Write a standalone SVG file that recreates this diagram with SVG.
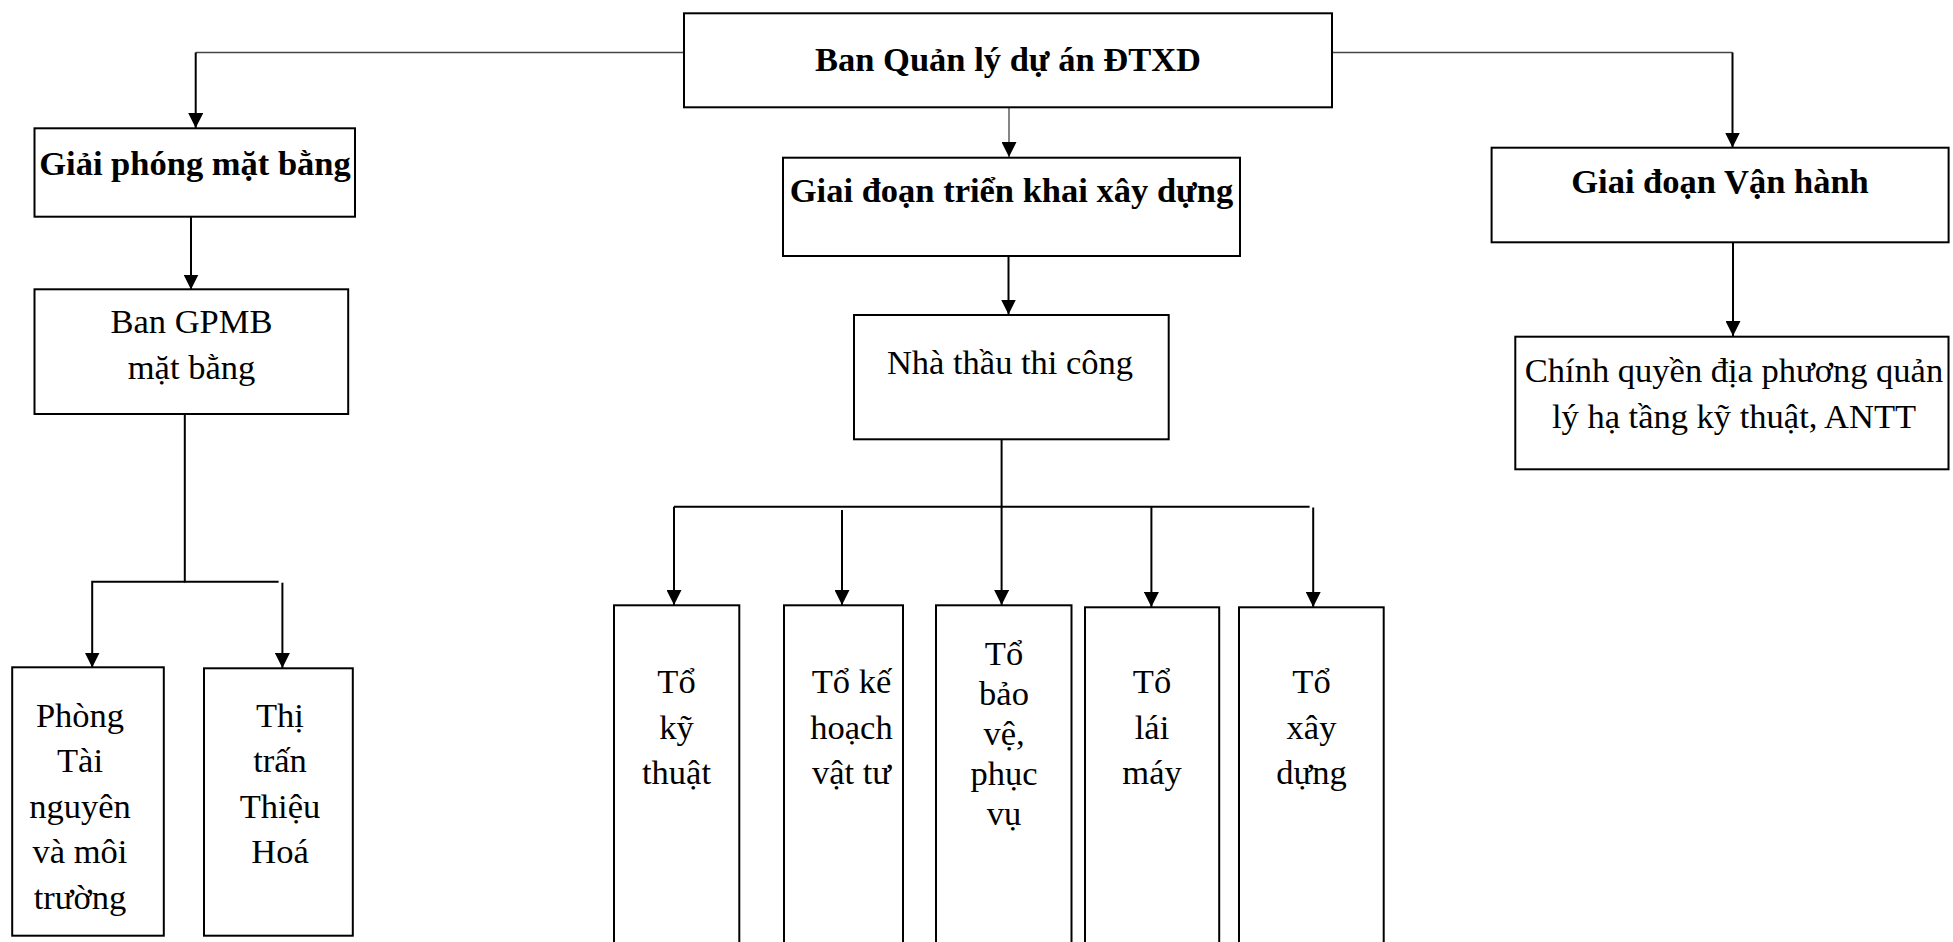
<svg xmlns="http://www.w3.org/2000/svg" width="1953" height="942" viewBox="0 0 1953 942">
<style>
.box{fill:#fff;stroke:#000;stroke-width:2}
.t{font-family:"Liberation Serif","Times New Roman",serif;font-size:34.5px;fill:#000;text-anchor:middle}
.b{font-weight:bold}
.c{fill:none;stroke:#000;stroke-width:2}
.thin{fill:none;stroke:#444;stroke-width:1.3}
</style>
<defs>
<marker id="ah" markerUnits="userSpaceOnUse" markerWidth="16" markerHeight="15" refX="15" refY="7.5" orient="auto">
<path d="M0,0 L15,7.5 L0,15 Z" fill="#000"/>
</marker>
</defs>
<rect width="1953" height="942" fill="#fff"/>
<g id="connectors">
<path class="thin" d="M684,52.5 H195.7"/>
<path class="c" d="M195.7,52.5 V128" marker-end="url(#ah)"/>
<path class="thin" d="M1332,52.5 H1732.5"/>
<path class="c" d="M1732.5,52.5 V147.5" marker-end="url(#ah)"/>
<path class="thin" d="M1009,107 V157" marker-end="url(#ah)"/>
<path class="c" d="M191,217 V289.5" marker-end="url(#ah)"/>
<path class="c" d="M1008.5,256 V314.5" marker-end="url(#ah)"/>
<path class="c" d="M1733,242.5 V336" marker-end="url(#ah)"/>
<path class="c" d="M184.8,414 V581.7 H278.6"/>
<path class="c" d="M184.8,581.7 H92.2 V667.5" marker-end="url(#ah)"/>
<path class="c" d="M282.4,582.7 V668" marker-end="url(#ah)"/>
<path class="c" d="M1001.6,439.5 V605" marker-end="url(#ah)"/>
<path class="c" d="M674,506.7 H1309.6"/>
<path class="c" d="M674,506.7 V605" marker-end="url(#ah)"/>
<path class="c" d="M842,510 V605" marker-end="url(#ah)"/>
<path class="c" d="M1151.4,506.7 V607" marker-end="url(#ah)"/>
<path class="c" d="M1313.2,507.5 V607" marker-end="url(#ah)"/>
</g>
<g id="n-top">
<rect class="box" x="684" y="13.3" width="648" height="94"/>
<text class="t b" x="1008" y="71">Ban Quản lý dự án ĐTXD</text>
</g>
<g id="n-gpmb">
<rect class="box" x="34.5" y="128.3" width="320.5" height="88.4"/>
<text class="t b" x="195" y="175">Giải phóng mặt bằng</text>
</g>
<g id="n-trienkhai">
<rect class="box" x="783" y="157.7" width="457" height="98.3"/>
<text class="t b" x="1011.5" y="202.3">Giai đoạn triển khai xây dựng</text>
</g>
<g id="n-vanhanh">
<rect class="box" x="1491.6" y="147.7" width="457" height="94.6"/>
<text class="t b" x="1720" y="193.3">Giai đoạn Vận hành</text>
</g>
<g id="n-bangpmb">
<rect class="box" x="34.5" y="289.3" width="313.7" height="124.7"/>
<text class="t" x="191.5" y="333.3">Ban GPMB</text>
<text class="t" x="191.5" y="378.5">mặt bằng</text>
</g>
<g id="n-nhathau">
<rect class="box" x="854" y="315" width="314.7" height="124.3"/>
<text class="t" x="1010" y="374">Nhà thầu thi công</text>
</g>
<g id="n-chinhquyen">
<rect class="box" x="1515.3" y="336.7" width="433.2" height="132.6"/>
<text class="t" x="1734" y="381.7">Chính quyền địa phương quản</text>
<text class="t" x="1734" y="427.7">lý hạ tầng kỹ thuật, ANTT</text>
</g>
<g id="n-phong">
<rect class="box" x="12.2" y="667.3" width="151.6" height="268.4"/>
<text class="t" x="80" y="726.7">Phòng</text>
<text class="t" x="80" y="772.2">Tài</text>
<text class="t" x="80" y="817.7">nguyên</text>
<text class="t" x="80" y="863.2">và môi</text>
<text class="t" x="80" y="908.7">trường</text>
</g>
<g id="n-thitran">
<rect class="box" x="204" y="668.3" width="148.8" height="267.4"/>
<text class="t" x="280" y="726.7">Thị</text>
<text class="t" x="280" y="772.2">trấn</text>
<text class="t" x="280" y="817.7">Thiệu</text>
<text class="t" x="280" y="863.2">Hoá</text>
</g>
<g id="n-kythuat">
<rect class="box" x="614" y="605.3" width="125.3" height="350"/>
<text class="t" x="676.5" y="693.3">Tổ</text>
<text class="t" x="676.5" y="738.8">kỹ</text>
<text class="t" x="676.5" y="784.3">thuật</text>
</g>
<g id="n-kehoach">
<rect class="box" x="784" y="605.3" width="119" height="350"/>
<text class="t" x="851.5" y="693.3">Tổ kế</text>
<text class="t" x="851.5" y="738.8">hoạch</text>
<text class="t" x="851.5" y="784.3">vật tư</text>
</g>
<g id="n-baove">
<rect class="box" x="936" y="605.3" width="135.5" height="350"/>
<text class="t" x="1004" y="665">Tổ</text>
<text class="t" x="1004" y="705">bảo</text>
<text class="t" x="1004" y="745">vệ,</text>
<text class="t" x="1004" y="785">phục</text>
<text class="t" x="1004" y="825">vụ</text>
</g>
<g id="n-laimay">
<rect class="box" x="1085" y="607.3" width="134.2" height="350"/>
<text class="t" x="1152" y="693.3">Tổ</text>
<text class="t" x="1152" y="738.8">lái</text>
<text class="t" x="1152" y="784.3">máy</text>
</g>
<g id="n-xaydung">
<rect class="box" x="1239" y="607.3" width="144.7" height="350"/>
<text class="t" x="1311.5" y="693.3">Tổ</text>
<text class="t" x="1311.5" y="738.8">xây</text>
<text class="t" x="1311.5" y="784.3">dựng</text>
</g>
</svg>
